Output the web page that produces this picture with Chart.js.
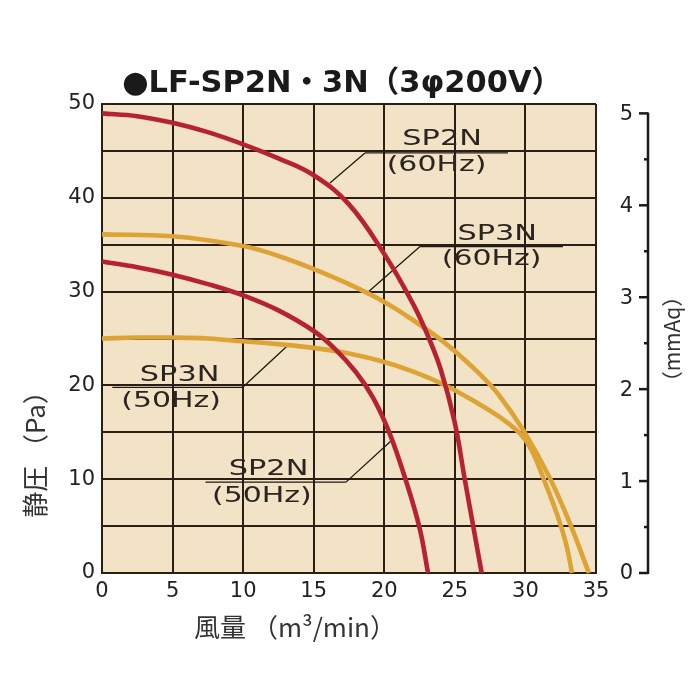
<!DOCTYPE html>
<html>
<head>
<meta charset="utf-8">
<script src="https://cdn.jsdelivr.net/npm/chart.js@4.4.1/dist/chart.umd.min.js"></script>
<style>
  html, body { margin: 0; padding: 0; background: #fff; }
  #wrap { width: 700px; height: 700px; }
</style>
</head>
<body>
<div id="wrap"><canvas id="pqChart" width="700" height="700"></canvas></div>
<script>
// 風量 (m3/min) / 静圧 (Pa)
const sp2n60Flow = [0, 2.5, 5, 7.5, 10, 12.5, 15, 17.5, 20, 22, 23, 24, 25, 25.7, 26.3, 26.9];
const sp2n60Pa   = [49.0, 48.7, 48.0, 47.0, 45.7, 44.2, 42.4, 39.3, 34.0, 28.8, 25.6, 21.7, 16.0, 10.0, 5.0, 0];

const sp2n50Flow = [0, 2.5, 5, 7.5, 10, 12.5, 15, 16.5, 18, 19.2, 20.35, 21.5, 22.5, 23.1];
const sp2n50Pa   = [33.2, 32.6, 31.8, 30.8, 29.6, 28.0, 25.8, 23.9, 21.4, 18.7, 15.0, 10.0, 4.8, 0];

const sp3n60Flow = [0, 5, 10, 12.5, 15, 17.5, 20, 22, 24.4, 26.7, 28.1, 29.9, 31.7, 33.2, 34.5];
const sp3n60Pa   = [36.1, 35.9, 34.85, 33.8, 32.4, 30.8, 28.9, 27.0, 24.4, 21.3, 19.0, 15.1, 10.2, 5.1, 0];

const sp3n50Flow = [0, 2.5, 5, 7.5, 10, 12.5, 15, 17.5, 20, 22, 24.2, 26.5, 28.3, 29.6, 30.4, 31.3, 32.3, 32.9, 33.3];
const sp3n50Pa   = [25.0, 25.1, 25.1, 25.0, 24.7, 24.4, 24.0, 23.4, 22.5, 21.5, 20.1, 18.2, 16.5, 14.9, 13.2, 10.0, 6.0, 3.0, 0];

const paTickLabels = [0, 10, 20, 30, 40, 50];
const mmAqTicks = [0, 1, 2, 3, 4, 5];
const PA_PER_MMAQ = 9.8;

const chartTitle = "●LF-SP2N・3N（3φ200V）";
const yTitle = "静圧 （Pa）";
const xTitle = "風量 （m³/min）";
const y2Title = "（mmAq）";

const RED = "#b72230";
const ORANGE = "#dda334";
const PLOT_BG = "#f2e3c7";
const GRID = "#2a1f14";
const INK = "#2a2520";

// label / leader line placement in data units
const callouts = [
    { name: "SP2N", freq: "(60Hz)", nx: 24.1, ny: 46.2, fx: 23.7, fy: 43.45, bar: [18.63, 28.76, 44.78], tip: [16.15, 41.58] },
    { name: "SP3N", freq: "(60Hz)", nx: 28.0, ny: 36.1, fx: 27.6, fy: 33.4, bar: [22.53, 32.66, 34.8], tip: [18.82, 29.9] },
    { name: "SP3N", freq: "(50Hz)", nx: 5.5, ny: 21.1, fx: 4.9, fy: 18.33, bar: [0.73, 9.97, 19.8], tip: [13.16, 24.26] },
    { name: "SP2N", freq: "(50Hz)", nx: 11.8, ny: 11.05, fx: 11.33, fy: 8.2, bar: [7.33, 17.29, 9.69], tip: [20.59, 14.24] },
];

function toPoints(xs, ys) {
    return xs.map(function (x, i) {
        return { x: x, y: ys[i] };
    });
}

function curve(label, xs, ys, color) {
    return {
        label: label,
        data: toPoints(xs, ys),
        showLine: true,
        borderColor: color,
        backgroundColor: color,
        borderWidth: 4.6,
        pointRadius: 0,
        tension: 0.4,
        borderCapStyle: "butt",
        clip: false,
    };
}

function wideText(ctx, text, x, y, font, stretch, align) {
    ctx.save();
    ctx.font = font;
    ctx.translate(x, y);
    ctx.scale(stretch, 1);
    ctx.textAlign = align || "center";
    ctx.textBaseline = "middle";
    ctx.fillText(text, 0, 0);
    ctx.restore();
}

const decorPlugin = {
    id: "decor",
    beforeDraw(chart) {
        const { ctx, chartArea: a } = chart;
        ctx.save();
        ctx.fillStyle = "#ffffff";
        ctx.fillRect(0, 0, chart.width, chart.height);
        ctx.fillStyle = PLOT_BG;
        ctx.fillRect(a.left, a.top, a.right - a.left, a.bottom - a.top);
        ctx.restore();
    },
    beforeDatasetsDraw(chart) {
        const ctx = chart.ctx;
        const sx = chart.scales.x;
        const sy = chart.scales.y;
        ctx.save();
        ctx.strokeStyle = "#1e1a16";
        ctx.lineWidth = 1.3;
        callouts.forEach(function (c) {
            const yb = sy.getPixelForValue(c.bar[2]);
            const x0 = sx.getPixelForValue(c.bar[0]);
            const x1 = sx.getPixelForValue(c.bar[1]);
            const tipX = sx.getPixelForValue(c.tip[0]);
            const tipY = sy.getPixelForValue(c.tip[1]);
            const joinX = c.tip[0] < c.bar[0] ? x0 : x1;
            ctx.beginPath();
            ctx.moveTo(x0, yb);
            ctx.lineTo(x1, yb);
            ctx.moveTo(joinX, yb);
            ctx.lineTo(tipX, tipY);
            ctx.stroke();
        });
        ctx.restore();
    },
    afterDatasetsDraw(chart) {
        const ctx = chart.ctx;
        const sx = chart.scales.x;
        const sy = chart.scales.y;
        const font = '22px "DejaVu Sans", sans-serif';
        ctx.save();
        ctx.fillStyle = INK;
        callouts.forEach(function (c) {
            wideText(ctx, c.name, sx.getPixelForValue(c.nx), sy.getPixelForValue(c.ny), font, 1.38);
            wideText(ctx, c.freq, sx.getPixelForValue(c.fx), sy.getPixelForValue(c.fy), font, 1.36);
        });
        ctx.restore();
    },
    afterDraw(chart) {
        const ctx = chart.ctx;
        const y2 = chart.scales.y2;
        const spineX = 648;
        ctx.save();

        // right hand mmAq axis
        ctx.strokeStyle = "#1a1a1a";
        ctx.lineWidth = 2.5;
        ctx.beginPath();
        ctx.moveTo(spineX, y2.getPixelForValue(0) + 1);
        ctx.lineTo(spineX, y2.getPixelForValue(5) - 1);
        ctx.stroke();
        for (let v = 0; v <= 5; v += 0.5) {
            const py = y2.getPixelForValue(v);
            const major = Number.isInteger(v);
            ctx.beginPath();
            ctx.moveTo(spineX - (major ? 9 : 4), py);
            ctx.lineTo(spineX, py);
            ctx.stroke();
        }
        ctx.fillStyle = "#222";
        ctx.font = '21px "DejaVu Sans", sans-serif';
        ctx.textAlign = "right";
        ctx.textBaseline = "middle";
        mmAqTicks.forEach(function (v) {
            ctx.fillText(String(v), 633, y2.getPixelForValue(v) + 1);
        });

        // title
        ctx.font = 'bold 30px "DejaVu Sans", "Noto Sans CJK JP", sans-serif';
        const tw = ctx.measureText(chartTitle).width;
        ctx.fillStyle = "#1a1a1a";
        wideText(ctx, chartTitle, 342, 84, ctx.font, 440 / tw);

        // axis titles
        ctx.fillStyle = "#333";
        ctx.font = '26px "Noto Sans CJK JP", sans-serif';
        ctx.textAlign = "center";
        ctx.textBaseline = "middle";
        ctx.fillText(xTitle, 295, 627);

        ctx.save();
        ctx.translate(35, 448);
        ctx.rotate(-Math.PI / 2);
        ctx.fillText(yTitle, 0, 0);
        ctx.restore();

        ctx.save();
        ctx.font = '21px "Noto Sans CJK JP", sans-serif';
        ctx.translate(672, 339);
        ctx.rotate(-Math.PI / 2);
        ctx.fillText(y2Title, 0, 0);
        ctx.restore();

        ctx.restore();
    },
};

const ctx = document.getElementById("pqChart").getContext("2d");
new Chart(ctx, {
    type: "scatter",
    data: {
        datasets: [
            curve("SP2N 60Hz", sp2n60Flow, sp2n60Pa, RED),
            curve("SP3N 60Hz", sp3n60Flow, sp3n60Pa, ORANGE),
            curve("SP2N 50Hz", sp2n50Flow, sp2n50Pa, RED),
            curve("SP3N 50Hz", sp3n50Flow, sp3n50Pa, ORANGE),
        ],
    },
    options: {
        responsive: false,
        animation: false,
        events: [],
        layout: {
            padding: { top: 104, left: 0, right: 0, bottom: 0 },
        },
        plugins: {
            legend: { display: false },
            tooltip: { enabled: false },
            title: { display: false },
        },
        scales: {
            x: {
                type: "linear",
                min: 0,
                max: 35,
                afterFit: function (scale) {
                    scale.height = 127;
                },
                ticks: {
                    stepSize: 5,
                    padding: 6,
                    color: "#222",
                    font: { family: "DejaVu Sans", size: 21 },
                },
                grid: {
                    color: GRID,
                    lineWidth: 2,
                    drawTicks: false,
                },
                border: { color: GRID, width: 2 },
            },
            y: {
                type: "linear",
                min: 0,
                max: 50,
                afterFit: function (scale) {
                    scale.width = 102;
                },
                ticks: {
                    stepSize: 5,
                    padding: 7,
                    color: "#222",
                    font: { family: "DejaVu Sans", size: 21 },
                    callback: function (value) {
                        return paTickLabels.includes(value) ? String(value) : "";
                    },
                },
                grid: {
                    color: GRID,
                    lineWidth: 2,
                    drawTicks: false,
                },
                border: { color: GRID, width: 2 },
            },
            y2: {
                type: "linear",
                position: "right",
                min: 0,
                max: 50 / PA_PER_MMAQ,
                afterFit: function (scale) {
                    scale.width = 104;
                },
                ticks: { display: false },
                grid: { display: false },
                border: { display: false },
            },
        },
    },
    plugins: [decorPlugin],
});
</script>
</body>
</html>
